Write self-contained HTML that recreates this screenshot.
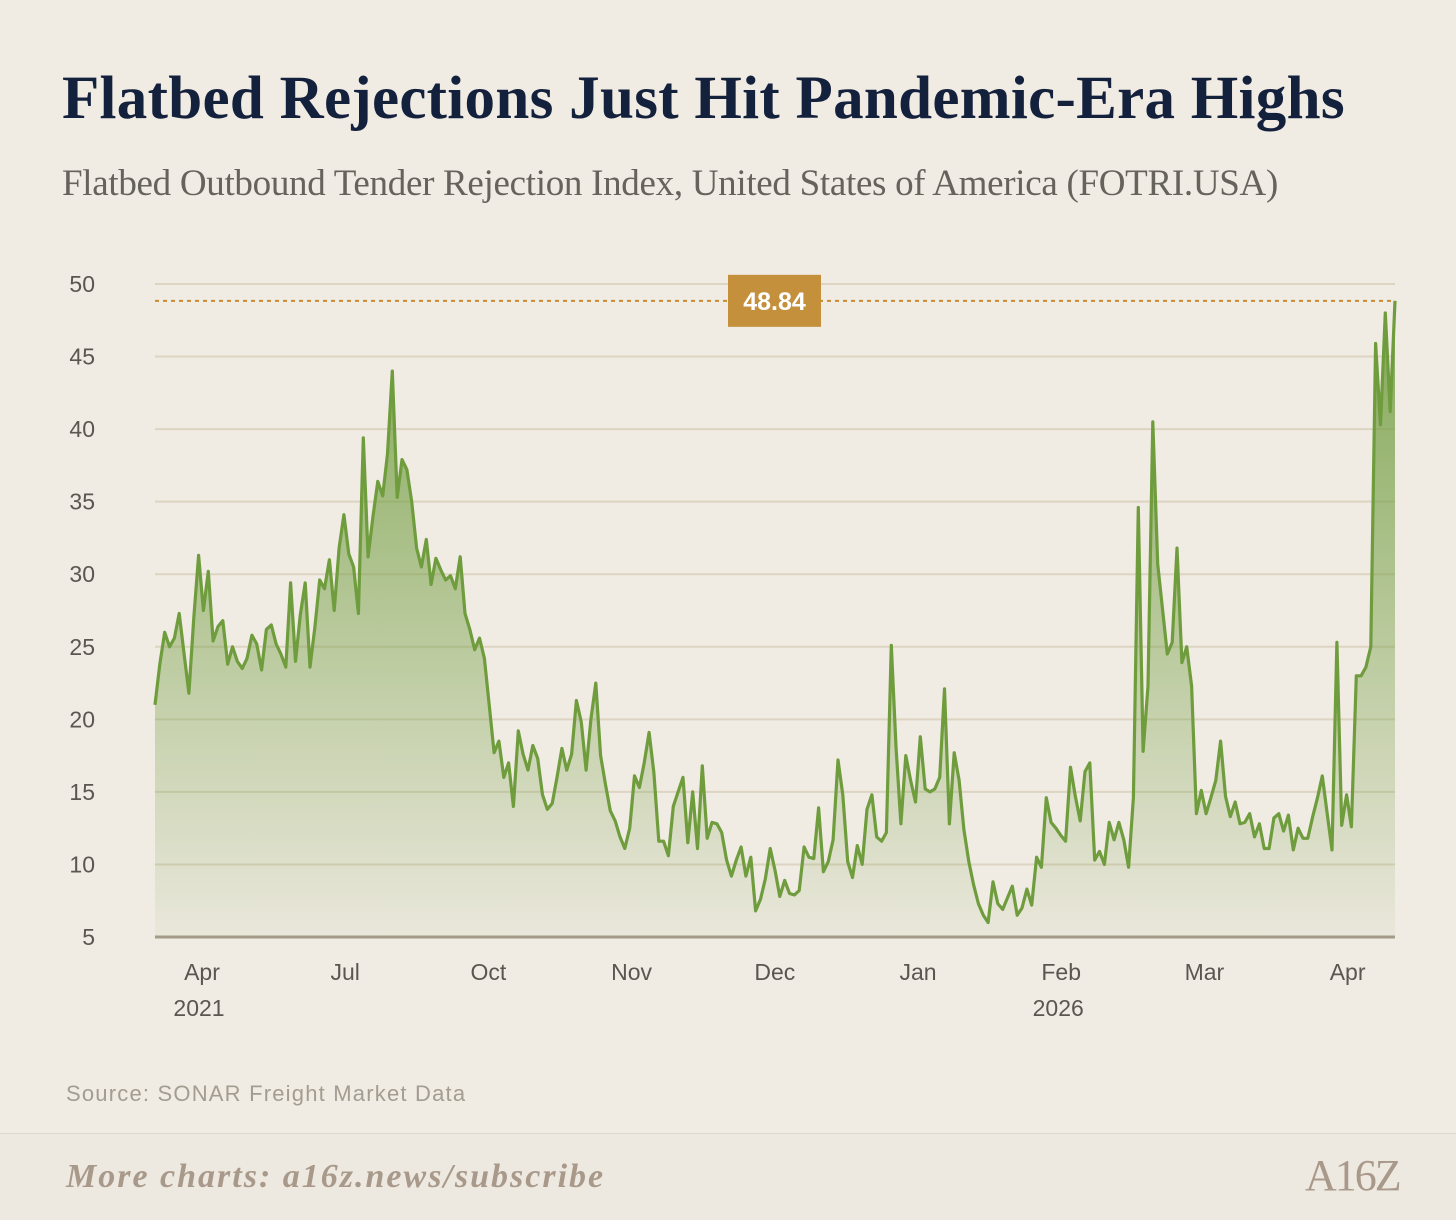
<!DOCTYPE html>
<html><head><meta charset="utf-8"><style>
html,body{margin:0;padding:0;background:#f0ebe3;}
body{width:1456px;height:1219px;position:relative;overflow:hidden;font-family:"Liberation Sans",sans-serif;}
.title{position:absolute;left:62px;top:64px;font-family:"Liberation Serif",serif;font-weight:bold;font-size:61px;color:#14213d;letter-spacing:0.3px;white-space:nowrap;}
.sub{position:absolute;left:62px;top:162px;font-family:"Liberation Serif",serif;font-size:37px;color:#66625c;white-space:nowrap;letter-spacing:-0.3px;}
.src{position:absolute;left:66px;top:1081px;font-size:22px;color:#a39c90;letter-spacing:1.2px;}
.footer{position:absolute;left:0;top:1133px;width:1456px;height:86px;background:#eee9e0;border-top:1px solid #e0d8ca;}
.more{position:absolute;left:66px;top:1158px;font-family:"Liberation Serif",serif;font-style:italic;font-weight:bold;font-size:34px;color:#a8998a;letter-spacing:2px;}
.logo{position:absolute;left:1305px;top:1150px;font-family:"Liberation Serif",serif;font-size:44px;color:#a8998a;letter-spacing:-2px;}
</style></head><body>
<div class="title">Flatbed Rejections Just Hit Pandemic-Era Highs</div>
<div class="sub">Flatbed Outbound Tender Rejection Index, United States of America (FOTRI.USA)</div>
<svg id="chart" width="1456" height="1219" style="position:absolute;left:0;top:0">
<defs><linearGradient id="g" x1="0" y1="0" x2="0" y2="1">
<stop offset="0" stop-color="#6f9c3d" stop-opacity="0.85"/>
<stop offset="1" stop-color="#6f9c3d" stop-opacity="0.05"/></linearGradient></defs>
</svg>
<div class="src">Source: SONAR Freight Market Data</div>
<div class="footer"></div>
<div class="more">More charts: a16z.news/subscribe</div>
<div class="logo">A16Z</div>
<script>
const values=[21,23.8,26,25,25.6,27.3,24.5,21.8,27,31.3,27.5,30.2,25.4,26.4,26.8,23.8,25,24,23.5,24.2,25.8,25.2,23.4,26.2,26.5,25.2,24.5,23.6,29.4,24,27.2,29.4,23.6,26.3,29.6,29,31,27.5,31.8,34.1,31.4,30.5,27.3,39.4,31.2,34,36.4,35.4,38.3,44,35.3,37.9,37.2,35,31.8,30.5,32.4,29.3,31.1,30.3,29.6,29.9,29,31.2,27.3,26.2,24.8,25.6,24.2,21,17.7,18.5,16,17,14,19.2,17.6,16.5,18.2,17.3,14.8,13.8,14.2,16,18,16.5,17.6,21.3,19.8,16.5,20,22.5,17.5,15.5,13.7,13,11.9,11.1,12.5,16.1,15.3,17,19.1,16.3,11.6,11.6,10.6,14,15,16,11.5,15,11.1,16.8,11.8,12.9,12.8,12.2,10.3,9.2,10.3,11.2,9.2,10.5,6.8,7.6,9,11.1,9.6,7.8,8.9,8,7.9,8.2,11.2,10.5,10.4,13.9,9.5,10.2,11.7,17.2,14.8,10.2,9.1,11.3,10,13.8,14.8,11.9,11.6,12.2,25.1,18,12.8,17.5,15.8,14.3,18.8,15.2,15,15.2,16,22.1,12.8,17.7,15.8,12.4,10.2,8.6,7.3,6.5,6,8.8,7.3,6.9,7.7,8.5,6.5,7,8.3,7.2,10.5,9.8,14.6,12.9,12.5,12,11.6,16.7,14.7,13,16.4,17,10.3,10.9,10,12.9,11.7,12.9,11.7,9.8,14.6,34.6,17.8,22.3,40.5,30.7,27.6,24.5,25.3,31.8,23.9,25,22.3,13.5,15.1,13.5,14.6,15.8,18.5,14.7,13.3,14.3,12.8,12.9,13.5,11.9,12.8,11.1,11.1,13.2,13.5,12.3,13.4,11,12.5,11.8,11.8,13.3,14.6,16.1,13.5,11,25.3,12.7,14.8,12.6,23,23,23.6,25,45.9,40.3,48,41.2,48.84];
const yTicks=[5,10,15,20,25,30,35,40,45,50];
const months=["Apr","Jul","Oct","Nov","Dec","Jan","Feb","Mar","Apr"];
const years=[["2021",0],["2026",6]];
const highLabel="48.84";
const NS="http://www.w3.org/2000/svg";
const svg=document.getElementById('chart');
const X0=155,X1=1395,Y0=937,Y1=284;
const y=v=>Y0-(v-5)/45*(Y0-Y1);
const x=i=>X0+i*(X1-X0)/(values.length-1);
const mx=i=>202+i*143.2;
function mk(t,a){const e=document.createElementNS(NS,t);for(const k in a)e.setAttribute(k,a[k]);svg.appendChild(e);return e;}
yTicks.forEach(t=>{
 if(t>5){const l=mk('line',{x1:X0,x2:X1,y1:y(t),y2:y(t),stroke:'#ddd4c2','stroke-width':2});
 
 }
 const tx=mk('text',{x:95,y:y(t)+8,'text-anchor':'end','font-size':23,fill:'#5a5650','font-family':'Liberation Sans, sans-serif'});
 tx.textContent=t;
 
 
});
let d='M'+x(0)+','+y(values[0]);
values.forEach((v,i)=>{if(i)d+='L'+x(i).toFixed(1)+','+y(v).toFixed(1);});
const area=mk('path',{d:d+'L'+X1+','+Y0+'L'+X0+','+Y0+'Z',fill:'url(#g)'});


const line=mk('path',{d:d,fill:'none',stroke:'#6f9c3d','stroke-width':3.2,'stroke-linejoin':'round'});


const base=mk('line',{x1:X0,x2:X1,y1:Y0,y2:Y0,stroke:'#a39a88','stroke-width':3});


const hv=values[values.length-1];
const dl=mk('line',{x1:X0,x2:X1,y1:y(hv),y2:y(hv),stroke:'#c98a2e','stroke-width':2,'stroke-dasharray':'4,4'});


const box=mk('rect',{x:728,y:y(hv)-26,width:93,height:52,fill:'#c4903c'});


const bt=mk('text',{x:774.5,y:y(hv)+9,'text-anchor':'middle','font-size':25,'font-weight':'bold',fill:'#fff','font-family':'Liberation Sans, sans-serif'});
bt.textContent=highLabel;


months.forEach((m,i)=>{
 const t=mk('text',{x:mx(i),y:980,'text-anchor':'middle','font-size':23,fill:'#5a5650','font-family':'Liberation Sans, sans-serif'});
 t.textContent=m;
 
 
});
years.forEach(([s,i])=>{
 const t=mk('text',{x:mx(i)-3,y:1016,'text-anchor':'middle','font-size':23,fill:'#5a5650','font-family':'Liberation Sans, sans-serif'});
 t.textContent=s;
 
 
});
</script>
</body></html>
